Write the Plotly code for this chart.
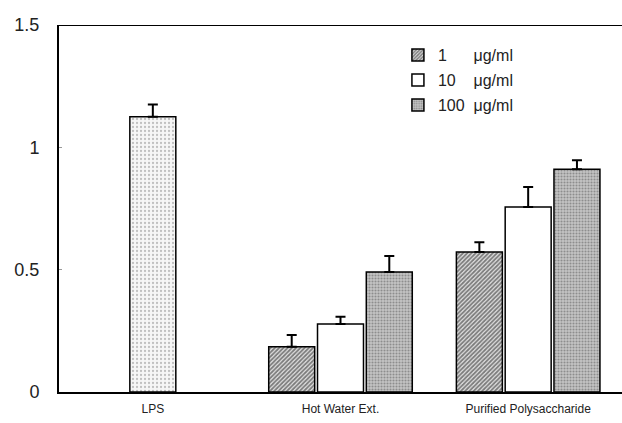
import plotly.graph_objects as go

categories = ["LPS", "Hot Water Ext.", "Purified Polysaccharide"]
doses = ["1", "10", "100"]
lps_value = [1.125]
lps_error = [0.05]
# values for Hot Water Ext. and Purified Polysaccharide per dose
dose_values = {
    "1": [0.185, 0.572],
    "10": [0.278, 0.756],
    "100": [0.490, 0.910],
}
dose_errors = {
    "1": [0.048, 0.040],
    "10": [0.030, 0.082],
    "100": [0.066, 0.037],
}
y_ticks = [0, 0.5, 1, 1.5]
y_ticktext = ["0", "0.5", "1", "1.5"]

offsets = {"1": -0.26, "10": 0.0, "100": 0.26}
names = {"1": "1" + "\u00a0" * 6 + "μg/ml",
         "10": "10" + "\u00a0" * 4 + "μg/ml",
         "100": "100" + "\u00a0" * 2 + "μg/ml"}
legend_ids = {"1": "legend", "10": "legend2", "100": "legend3"}
legend_y = {"1": 0.918, "10": 0.850, "100": 0.782}
patterns = {
    "1": dict(shape="/", fgcolor="#111111", bgcolor="#e4e4e4", size=3, solidity=0.6),
    "10": dict(shape="", fgcolor="white", bgcolor="white"),
    "100": dict(shape=".", fgcolor="#555555", bgcolor="#c4c4c4", size=3, solidity=0.4),
}
font = "Liberation Sans, Arial, sans-serif"

fig = go.Figure()

fig.add_trace(go.Bar(
    x=[0], y=lps_value, width=0.245, showlegend=False,
    marker=dict(color="white", line=dict(color="black", width=1.5),
                pattern=dict(shape=".", fgcolor="#8a8a8a", bgcolor="#f6f6f6", size=4, solidity=0.25)),
    error_y=dict(type="data", symmetric=False, array=lps_error, arrayminus=[0],
                 color="black", thickness=2, width=5),
))

for d in doses:
    xs = [1 + offsets[d], 2 + offsets[d]]
    fig.add_trace(go.Bar(
        x=xs, y=dose_values[d], width=0.245, name=names[d], legend=legend_ids[d],
        marker=dict(color="white", line=dict(color="black", width=1.5), pattern=patterns[d]),
        error_y=dict(type="data", symmetric=False, array=dose_errors[d], arrayminus=[0, 0],
                     color="black", thickness=2, width=5),
    ))

fig.add_shape(type="line", xref="paper", yref="y", x0=0, x1=1, y0=1.5, y1=1.5,
              line=dict(color="black", width=2))

legend_common = dict(x=0.602, xanchor="left", yanchor="middle", bgcolor="rgba(0,0,0,0)",
                     font=dict(size=16, color="#222222"), itemwidth=30)

fig.update_layout(
    width=622, height=423,
    margin=dict(l=59, r=0, t=25, b=31),
    paper_bgcolor="white", plot_bgcolor="white",
    barmode="overlay",
    font=dict(family=font, color="#222222"),
    xaxis=dict(range=[-0.5, 2.5], tickvals=[0, 1, 2], ticktext=categories,
               showgrid=False, zeroline=False, showline=True, linecolor="black", linewidth=2,
               ticks="", ticklabelstandoff=5, tickfont=dict(size=12, color="#222222"),
               automargin=False),
    yaxis=dict(range=[0, 1.5], tickvals=y_ticks, ticktext=y_ticktext,
               showgrid=False, zeroline=False, showline=True, linecolor="black", linewidth=2,
               ticks="inside", ticklen=3, tickcolor="#999999", ticklabelstandoff=14,
               tickfont=dict(size=18, color="#222222"), automargin=False),
    legend=dict(y=legend_y["1"], **legend_common),
    legend2=dict(y=legend_y["10"], **legend_common),
    legend3=dict(y=legend_y["100"], **legend_common),
)

fig.write_html(
    "out.html",
    config={"displayModeBar": False},
    post_script="document.body.style.margin='0';document.body.style.overflow='hidden';",
)
